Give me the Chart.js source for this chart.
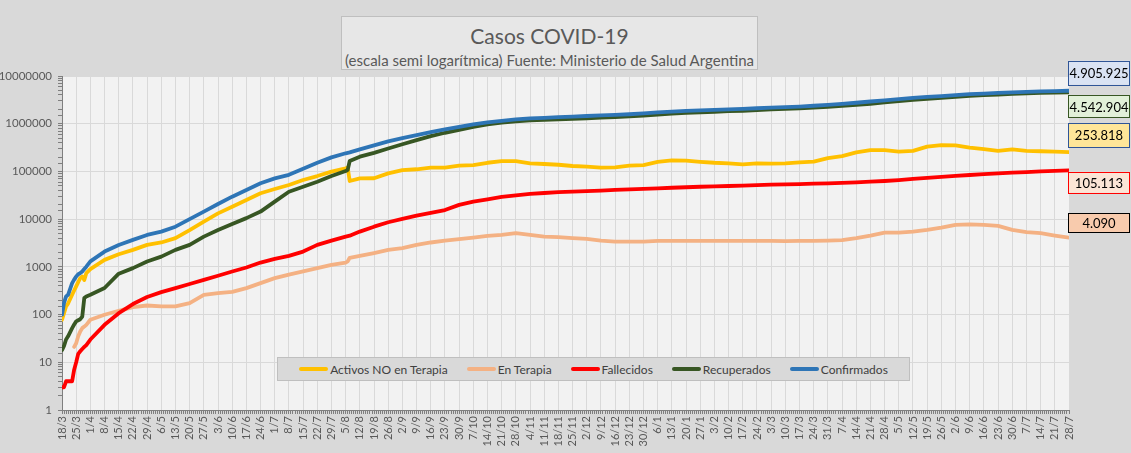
<!DOCTYPE html>
<html lang="es">

<head>
  <meta charset="UTF-8">
  <title>Casos COVID-19</title>
  <style>
    body { margin: 0; background: #d9d9d9; }
    #app { position: relative; width: 1131px; height: 453px; font-family: Lato, "Open Sans", sans-serif; }
    #grafico { position: absolute; left: 0; top: 0; }
    #titulo {
      position: absolute; left: 341px; top: 16px; width: 415px; height: 52px;
      background: #e7e7e7; border: 1px solid #bfbfbf; color: #595959; text-align: center;
    }
    #titulo .t1 { font-size: 21px; line-height: 24px; margin-top: 7px; }
    #titulo .t2 { font-size: 15px; line-height: 18px; margin-top: 3px; }
    #leyenda {
      position: absolute; left: 277px; top: 357px; width: 631px; height: 22px;
      background: #d9d9d9; border: 1px solid #bfbfbf;
      display: flex; align-items: center; justify-content: center; gap: 19px;
      font-size: 12px; color: #404040;
    }
    #leyenda .item { display: flex; align-items: center; }
    #leyenda .linea { width: 29px; height: 4px; border-radius: 2px; margin-right: 2px; }
  </style>
</head>

<body>
  <div id="app">
    <canvas id="grafico" width="1131" height="453"></canvas>
    <div id="titulo">
      <div class="t1">Casos COVID-19</div>
      <div class="t2">(escala semi logarítmica) Fuente: Ministerio de Salud Argentina</div>
    </div>
    <div id="leyenda"></div>
  </div>

  <script src="https://cdn.jsdelivr.net/npm/chart.js"></script>
  <script>
    // etiquetas semanales del eje x (18/3/2020 a 28/7/2021)
    const tickLabels = ['18/3', '25/3', '1/4', '8/4', '15/4', '22/4', '29/4', '6/5', '13/5', '20/5', '27/5',
      '3/6', '10/6', '17/6', '24/6', '1/7', '8/7', '15/7', '22/7', '29/7', '5/8', '12/8', '19/8', '26/8',
      '2/9', '9/9', '16/9', '23/9', '30/9', '7/10', '14/10', '21/10', '28/10', '4/11', '11/11', '18/11',
      '25/11', '2/12', '9/12', '16/12', '23/12', '30/12', '6/1', '13/1', '20/1', '27/1', '3/2', '10/2',
      '17/2', '24/2', '3/3', '10/3', '17/3', '24/3', '31/3', '7/4', '14/4', '21/4', '28/4', '5/5', '12/5',
      '19/5', '26/5', '2/6', '9/6', '16/6', '23/6', '30/6', '7/7', '14/7', '21/7', '28/7'];

    // dias desde el 18/3/2020 en que se leyeron los valores
    const dias = [0, 1, 2, 3, 5, 6, 7, 8, 9, 10, 11, 12, 14,
      21, 28, 35, 42, 49, 56, 63, 70, 77, 84, 91, 98, 105, 112, 119, 126, 133, 140, 141, 142,
      147, 154, 161, 168, 175, 182, 189, 196, 203, 210, 217, 224, 231, 238, 245, 252, 259, 266,
      273, 280, 287, 294, 301, 308, 315, 322, 329, 336, 343, 350, 357, 364, 371, 378, 385, 392,
      399, 406, 413, 420, 427, 434, 441, 448, 455, 462, 469, 476, 483, 490, 497];

    const activos = [78, 107, 148, 170, 260, 320, 390, 480, 580, 630, 530, 740, 900,
      1400, 1840, 2270, 2890, 3240, 4000, 5900, 8900, 13200, 18200, 25200, 34800, 42800, 52000, 66000, 80000, 99000, 116000, 120000, 63000,
      71600, 72000, 91000, 107000, 111000, 120000, 120000, 132000, 136000, 152000, 165000, 165000, 148000, 143000, 138000, 130000, 126000,
      120000, 122000, 132000, 136000, 159000, 170000, 168000, 159000, 152000, 148000, 141000, 148000, 146000, 148000, 155000, 160000,
      190000, 210000, 250000, 280000, 280000, 260000, 270000, 330000, 357000, 350000, 317000, 293000, 270000, 290000, 270000, 265000,
      259000, 253818];

    const enTerapia = [null, null, null, null, null, 21, 25, 35, 44, 52, 56, 61, 78,
      99, 120, 143, 155, 148, 148, 174, 260, 282, 300, 359, 457, 580, 690, 800, 940, 1100, 1230, 1300, 1550,
      1700, 1950, 2270, 2460, 2890, 3240, 3550, 3800, 4100, 4450, 4670, 5070, 4670, 4310, 4200, 4000, 3850,
      3550, 3390, 3390, 3390, 3500, 3500, 3500, 3500, 3500, 3500, 3500, 3500, 3500, 3450, 3500, 3500,
      3550, 3650, 4000, 4520, 5220, 5220, 5480, 5950, 6630, 7570, 7800, 7570, 7220, 5950, 5320, 5070,
      4520, 4090];

    const fallecidos = [3, 3, 4, 4, 4, 7, 10, 15, 17, 19, 21, 23, 30,
      61, 107, 166, 233, 295, 359, 437, 534, 650, 800, 970, 1230, 1470, 1700, 2090, 2890, 3550, 4310, 4400, 4500,
      5480, 6950, 8600, 10100, 11800, 13600, 15500, 19900, 23300, 26000, 29200, 31600, 33700, 35300, 37000, 37600, 38600,
      39600, 41000, 42200, 43200, 44200, 45500, 46600, 47700, 48800, 49500, 50300, 51500, 52700, 53500, 54400, 55300,
      56000, 57500, 59000, 61000, 63000, 66000, 69500, 73000, 76700, 80500, 84200, 87500, 91000, 94000, 97000, 100000,
      103000, 105113];

    const recuperados = [18, 22, 30, 35, 52, 62, 72, 76, 80, 91, 222, 240, 260,
      360, 720, 940, 1290, 1640, 2270, 2890, 4300, 5900, 7940, 10500, 14400, 23300, 37600, 47900, 61000, 80000, 102000, 108000, 165000,
      204000, 245000, 302000, 372000, 452000, 550000, 646000, 742000, 861000, 967000, 1050000, 1120000, 1170000, 1210000, 1240000, 1270000, 1300000,
      1340000, 1380000, 1420000, 1480000, 1550000, 1620000, 1680000, 1740000, 1780000, 1830000, 1870000, 1930000, 2000000, 2050000, 2110000, 2180000,
      2260000, 2360000, 2480000, 2620000, 2790000, 2970000, 3150000, 3320000, 3470000, 3640000, 3820000, 3960000, 4090000, 4210000, 4320000, 4410000,
      4480000, 4542904];

    const confirmados = [100, 175, 240, 260, 455, 540, 630, 700, 740, 800, 900, 1010, 1300,
      2090, 2880, 3670, 4670, 5480, 6950, 10000, 14350, 20800, 29600, 40800, 56500, 71600, 85000, 114000, 152000, 197000, 240000, 245000, 250000,
      290000, 352000, 427000, 500000, 577000, 667000, 760000, 861000, 966000, 1070000, 1150000, 1230000, 1290000, 1330000, 1380000, 1410000, 1450000,
      1490000, 1530000, 1580000, 1650000, 1720000, 1790000, 1860000, 1910000, 1950000, 2000000, 2040000, 2110000, 2180000, 2230000, 2290000, 2380000,
      2470000, 2600000, 2750000, 2920000, 3100000, 3280000, 3470000, 3640000, 3800000, 3980000, 4160000, 4290000, 4420000, 4540000, 4660000, 4740000,
      4820000, 4905925];

    const series = [
      { label: 'Activos NO en Terapia', data: activos, color: '#ffc000', caja: { dy: -17, h: 24, fondo: '#ffe699', borde: '#2f5597' } },
      { label: 'En Terapia', data: enTerapia, color: '#f4b183', caja: { dy: -15, h: 19, fondo: '#f8cbad', borde: '#000000' } },
      { label: 'Fallecidos', data: fallecidos, color: '#ff0000', caja: { dy: 12, h: 21, fondo: '#fbe5d6', borde: '#ff0000' } },
      { label: 'Recuperados', data: recuperados, color: '#375623', caja: { dy: 14, h: 22, fondo: '#e2f0d9', borde: '#375623' } },
      { label: 'Confirmados', data: confirmados, color: '#2e75b6', caja: { dy: -18, h: 24, fondo: '#dae3f3', borde: '#2f5597' } }
    ];

    function esPotencia(v) {
      const l = Math.log10(v);
      return Math.abs(l - Math.round(l)) < 1e-9;
    }

    const fondoArea = {
      id: 'fondoArea',
      beforeDraw(chart) {
        const a = chart.chartArea, ctx = chart.ctx;
        ctx.save();
        ctx.fillStyle = '#f2f2f2';
        ctx.fillRect(a.left, a.top, a.right - a.left, a.bottom - a.top);
        ctx.restore();
      }
    };

    // cajas con el ultimo valor de cada serie
    const cajasValor = {
      id: 'cajasValor',
      afterDraw(chart) {
        const ctx = chart.ctx, a = chart.chartArea, y = chart.scales.y;
        ctx.save();
        ctx.font = '13px Lato';
        ctx.textAlign = 'center';
        ctx.textBaseline = 'middle';
        series.forEach(function (s) {
          const ultimo = s.data[s.data.length - 1];
          const cy = y.getPixelForValue(ultimo) + s.caja.dy;
          const x0 = a.right - 1, w = chart.width - 1 - x0;
          ctx.fillStyle = s.caja.fondo;
          ctx.fillRect(x0, cy - s.caja.h / 2, w, s.caja.h);
          ctx.strokeStyle = s.caja.borde;
          ctx.lineWidth = 1;
          ctx.strokeRect(x0 + 0.5, Math.round(cy - s.caja.h / 2) + 0.5, w - 1, s.caja.h);
          ctx.fillStyle = '#000000';
          ctx.fillText(ultimo.toLocaleString('de-DE'), x0 + w / 2, cy + 1);
        });
        ctx.restore();
      }
    };

    Chart.defaults.font.family = 'Lato';
    Chart.defaults.color = '#595959';

    // las confirmadas se dibujan arriba de todo
    const datasets = series.slice().reverse().map(function (s) {
      return {
        label: s.label,
        data: dias.map(function (d, i) { return { x: d, y: s.data[i] }; }),
        borderColor: s.color,
        backgroundColor: s.color,
        borderWidth: 3.8,
        pointRadius: 0,
        tension: 0,
        borderJoinStyle: 'round',
        borderCapStyle: 'round',
        xAxisID: 'x',
        yAxisID: 'y'
      };
    });

    const chart = new Chart(document.getElementById('grafico'), {
      type: 'line',
      data: { datasets: datasets },
      plugins: [fondoArea, cajasValor],
      options: {
        responsive: false,
        animation: false,
        layout: { padding: { top: 76, right: 62, bottom: 0, left: 0 } },
        plugins: { legend: { display: false }, tooltip: { enabled: false } },
        scales: {
          y: {
            type: 'logarithmic',
            min: 1,
            max: 10000000,
            afterFit(scale) { scale.width = 62; },
            grid: {
              color: function (ctx) { return ctx.tick && esPotencia(ctx.tick.value) ? '#d9d9d9' : 'rgba(0,0,0,0)'; },
              tickColor: '#7f7f7f',
              tickLength: 4
            },
            border: { color: '#7f7f7f' },
            ticks: {
              autoSkip: false,
              padding: 6,
              font: { size: 11.5 },
              color: '#595959',
              callback: function (v) { return esPotencia(v) ? String(Math.round(v)) : ''; }
            }
          },
          xd: {
            type: 'linear',
            position: 'bottom',
            weight: 0,
            min: 0,
            max: 497,
            afterFit(scale) { scale.height = 4; },
            grid: { drawOnChartArea: false, tickLength: 4, tickColor: '#7f7f7f', color: '#7f7f7f' },
            border: { color: '#7f7f7f' },
            ticks: { display: false, stepSize: 1 }
          },
          x: {
            type: 'linear',
            position: 'bottom',
            weight: 1,
            min: 0,
            max: 497,
            afterFit(scale) { scale.height = 39; },
            grid: { color: '#d9d9d9', drawTicks: false },
            border: { display: false },
            ticks: {
              stepSize: 7,
              autoSkip: false,
              maxRotation: 90,
              minRotation: 90,
              padding: 2,
              font: { size: 11 },
              color: '#595959',
              callback: function (v) { return tickLabels[Math.round(v / 7)]; }
            }
          }
        }
      }
    });

    // leyenda en el orden del grafico original
    const leyenda = document.getElementById('leyenda');
    series.forEach(function (s) {
      const item = document.createElement('div');
      item.className = 'item';
      item.innerHTML = '<span class="linea" style="background:' + s.color + '"></span><span>' + s.label + '</span>';
      leyenda.appendChild(item);
    });
  </script>
</body>

</html>
